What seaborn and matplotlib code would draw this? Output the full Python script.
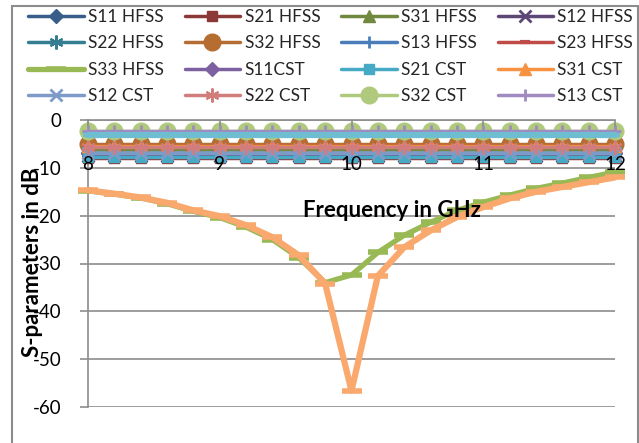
import matplotlib
matplotlib.use("Agg")
import matplotlib.pyplot as plt
import seaborn as sns
import pandas as pd
from matplotlib.patches import Rectangle

# ---------------- data ----------------
freq = [8.0, 8.2, 8.4, 8.6, 8.8, 9.0, 9.2, 9.4, 9.6, 9.8, 10.0,
        10.2, 10.4, 10.6, 10.8, 11.0, 11.2, 11.4, 11.6, 11.8, 12.0]

s11_hfss = [-7.0, -7.0, -7.0, -7.0, -7.0, -7.0, -7.0, -7.0, -7.0, -7.0, -7.0, -7.0, -7.0, -7.0, -7.0, -7.0, -7.0, -7.0, -7.0, -7.0, -7.0]
s21_hfss = [-8.0, -8.0, -8.0, -8.0, -8.0, -8.0, -8.0, -8.0, -8.0, -8.0, -8.0, -8.0, -8.0, -8.0, -8.0, -8.0, -8.0, -8.0, -8.0, -8.0, -8.0]
s31_hfss = [-6.0, -6.0, -6.0, -6.0, -6.0, -6.0, -6.0, -6.0, -6.0, -6.0, -6.0, -6.0, -6.0, -6.0, -6.0, -6.0, -6.0, -6.0, -6.0, -6.0, -6.0]
s12_hfss = [-7.5, -7.5, -7.5, -7.5, -7.5, -7.5, -7.5, -7.5, -7.5, -7.5, -7.5, -7.5, -7.5, -7.5, -7.5, -7.5, -7.5, -7.5, -7.5, -7.5, -7.5]
s22_hfss = [-7.0, -7.0, -7.0, -7.0, -7.0, -7.0, -7.0, -7.0, -7.0, -7.0, -7.0, -7.0, -7.0, -7.0, -7.0, -7.0, -7.0, -7.0, -7.0, -7.0, -7.0]
s32_hfss = [-5.0, -5.0, -5.0, -5.0, -5.0, -5.0, -5.0, -5.0, -5.0, -5.0, -5.0, -5.0, -5.0, -5.0, -5.0, -5.0, -5.0, -5.0, -5.0, -5.0, -5.0]
s13_hfss = [-7.0, -7.0, -7.0, -7.0, -7.0, -7.0, -7.0, -7.0, -7.0, -7.0, -7.0, -7.0, -7.0, -7.0, -7.0, -7.0, -7.0, -7.0, -7.0, -7.0, -7.0]
s23_hfss = [-5.5, -5.5, -5.5, -5.5, -5.5, -5.5, -5.5, -5.5, -5.5, -5.5, -5.5, -5.5, -5.5, -5.5, -5.5, -5.5, -5.5, -5.5, -5.5, -5.5, -5.5]
s33_hfss = [-14.8, -15.5, -16.3, -17.5, -19.1, -20.4, -22.4, -25.0, -28.8, -34.0, -32.4,
            -27.7, -24.1, -21.4, -18.9, -17.2, -15.7, -14.3, -13.2, -12.0, -10.9]
s11_cst = [-7.0, -7.0, -7.0, -7.0, -7.0, -7.0, -7.0, -7.0, -7.0, -7.0, -7.0, -7.0, -7.0, -7.0, -7.0, -7.0, -7.0, -7.0, -7.0, -7.0, -7.0]
s21_cst = [-7.7, -7.7, -7.7, -7.7, -7.7, -7.7, -7.7, -7.7, -7.7, -7.7, -7.7, -7.7, -7.7, -7.7, -7.7, -7.7, -7.7, -7.7, -7.7, -7.7, -7.7]
s31_cst = [-5.5, -5.5, -5.5, -5.5, -5.5, -5.5, -5.5, -5.5, -5.5, -5.5, -5.5, -5.5, -5.5, -5.5, -5.5, -5.5, -5.5, -5.5, -5.5, -5.5, -5.5]
s12_cst = [-6.8, -6.8, -6.8, -6.8, -6.8, -6.8, -6.8, -6.8, -6.8, -6.8, -6.8, -6.8, -6.8, -6.8, -6.8, -6.8, -6.8, -6.8, -6.8, -6.8, -6.8]
s22_cst = [-5.6, -5.6, -5.6, -5.6, -5.6, -5.6, -5.6, -5.6, -5.6, -5.6, -5.6, -5.6, -5.6, -5.6, -5.6, -5.6, -5.6, -5.6, -5.6, -5.6, -5.6]
s32_cst = [-2.3, -2.3, -2.3, -2.3, -2.3, -2.3, -2.3, -2.3, -2.3, -2.3, -2.3, -2.3, -2.3, -2.3, -2.3, -2.3, -2.3, -2.3, -2.3, -2.3, -2.3]
s13_cst = [-2.3, -2.3, -2.3, -2.3, -2.3, -2.3, -2.3, -2.3, -2.3, -2.3, -2.3, -2.3, -2.3, -2.3, -2.3, -2.3, -2.3, -2.3, -2.3, -2.3, -2.3]
s23_cst = [-3.2, -3.2, -3.2, -3.2, -3.2, -3.2, -3.2, -3.2, -3.2, -3.2, -3.2, -3.2, -3.2, -3.2, -3.2, -3.2, -3.2, -3.2, -3.2, -3.2, -3.2]
s33_cst = [-14.7, -15.4, -16.2, -17.3, -18.9, -20.1, -22.0, -24.5, -28.3, -34.2, -56.6,
           -32.6, -26.6, -23.1, -20.3, -18.2, -16.4, -15.0, -14.0, -13.0, -12.0]

series_names = ["S11 HFSS", "S21 HFSS", "S31 HFSS", "S12 HFSS", "S22 HFSS", "S32 HFSS",
                "S13 HFSS", "S23 HFSS", "S33 HFSS", "S11CST", "S21 CST", "S31 CST",
                "S12 CST", "S22 CST", "S32 CST", "S13 CST", "S23 CST", "S33 CST"]
series_values = [s11_hfss, s21_hfss, s31_hfss, s12_hfss, s22_hfss, s32_hfss,
                 s13_hfss, s23_hfss, s33_hfss, s11_cst, s21_cst, s31_cst,
                 s12_cst, s22_cst, s32_cst, s13_cst, s23_cst, s33_cst]
legend_names = series_names[:16]

y_ticks = [0, -10, -20, -30, -40, -50, -60]
y_tick_labels = ["0", "-10", "-20", "-30", "-40", "-50", "-60"]
x_ticks = [8, 9, 10, 11, 12]
x_tick_labels = ["8", "9", "10", "11", "12"]

# ---------------- styles ----------------
colors = ["#385D8A", "#8C3836", "#71893F", "#5C4776", "#357D91", "#B66D31",
          "#4A7EBB", "#BE4B48", "#98B954", "#7D60A0", "#46AAC5", "#F69240",
          "#7E9BC8", "#D07D7B", "#B0CA7D", "#A08AC0", "#6FBDD1", "#F9A86E"]
star = (6, 2, 0)
markers = ["D", "s", "^", "x", star, "o", "+", "_", "_",
           "D", "s", "^", "x", star, "o", "+", "_", "_"]
msizes = [7, 7, 8, 8, 10, 12, 9, 7, 15, 7, 7, 8, 8, 10, 12, 9, 7, 15]
mews = [1, 1, 1, 2, 1.6, 1, 2, 3, 4, 1, 1, 1, 2, 1.6, 1, 2, 3, 4]
lws = [2.5] * 16 + [4.5, 4.5]
lws[8] = 3.8

sns.set_theme(style="white")
plt.rcParams["font.family"] = ["Lato", "DejaVu Sans"]

W, H = 639, 443
fig = plt.figure(figsize=(W / 100, H / 100), dpi=100)
ax = fig.add_axes([88 / W, (H - 407) / H, (615 - 88) / W, (407 - 120) / H])

grey = "#8C8C8C"

handles = {}
for i, (name, vals) in enumerate(zip(series_names, series_values)):
    df = pd.DataFrame({"freq": freq, "val": vals})
    sns.lineplot(data=df, x="freq", y="val", ax=ax, color=colors[i],
                 marker=markers[i], markersize=msizes[i], markeredgewidth=mews[i],
                 markeredgecolor=colors[i], markerfacecolor=colors[i],
                 linewidth=lws[i], clip_on=False, zorder=3 + i * 0.1,
                 label=name, legend=False, estimator=None, sort=False)
    handles[name] = ax.lines[-1]

ax.set_xlim(8, 12)
ax.set_ylim(-60, 0)
ax.set_yticks(y_ticks)
ax.set_yticklabels(y_tick_labels)
ax.set_xticks(x_ticks)
ax.set_xticklabels(x_tick_labels)

for s in ["top", "right"]:
    ax.spines[s].set_visible(False)
ax.spines["bottom"].set_position(("data", 0))
for s in ["left", "bottom"]:
    ax.spines[s].set_color(grey)
    ax.spines[s].set_linewidth(1.2)
    ax.spines[s].set_zorder(2)

ax.yaxis.grid(True, color=grey, linewidth=1.2)
ax.xaxis.grid(False)
ax.set_axisbelow(True)
ax.xaxis.set_zorder(20)

ax.tick_params(axis="y", direction="out", length=6, width=1.2, color=grey,
               pad=13, labelsize=13.5, labelcolor="black", left=True)
ax.tick_params(axis="x", direction="out", length=4, width=1.2, color=grey,
               pad=22, labelsize=13.5, labelcolor="black", bottom=True)

ax.set_xlabel("")
ax.set_ylabel("")
fig.text(392 / W, 1 - 210 / H, "Frequency in GHz", ha="center", va="center",
         fontsize=16, fontweight="bold", color="black", zorder=20)
fig.text(33 / W, 1 - 262 / H, "S-parameters in dB", ha="center", va="center",
         rotation=90, fontsize=16, fontweight="bold", color="black", zorder=20)

# legend: row-wise order in a 4-column grid
ncol = 4
nrow = 4
order = [legend_names[r * ncol + c] for c in range(ncol) for r in range(nrow)]
leg = fig.legend([handles[n] for n in order], order, ncol=ncol, loc="upper left",
                 bbox_to_anchor=(28 / W, 1 - 9 / H), bbox_transform=fig.transFigure,
                 frameon=False, fontsize=12.5, handlelength=3.2, handletextpad=0.25,
                 columnspacing=1.2, labelspacing=0.6, borderpad=0, borderaxespad=0,
                 numpoints=1)

# outer chart frame
fig.patches.append(Rectangle((12 / W, -0.05), (638 - 12) / W, 1.05 - 6 / H,
                             transform=fig.transFigure, fill=False,
                             edgecolor=grey, linewidth=1.5, zorder=0))

fig.savefig("out.png", dpi=100)
